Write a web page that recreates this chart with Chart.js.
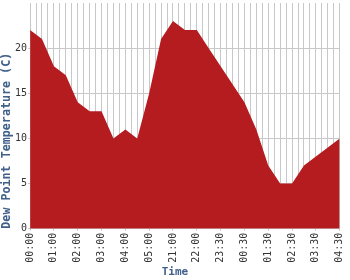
<!DOCTYPE html>
<html>
<head>
<meta charset="utf-8">
<script src="https://cdn.jsdelivr.net/npm/chart.js@4/dist/chart.umd.min.js"></script>
<style>
  html, body { margin: 0; padding: 0; background: #fff; }
</style>
</head>
<body>
<canvas id="dew" width="350" height="280"></canvas>
<script>
// one value every half label step, labels shown on every 2nd point
const dewPoint = [22, 21, 18, 17, 14, 13, 13, 10, 11, 10, 15, 21, 23, 22,
                  22, 20, 18, 16, 14, 11, 7, 5, 5, 7, 8, 9, 10];
const timeLabels = ['00:00', '01:00', '02:00', '03:00', '04:00', '05:00', '21:00',
                    '22:00', '23:30', '00:30', '01:30', '02:30', '03:30', '04:30'];

const gridGray = '#c8c8c8';
const titleBlue = '#40608a';
const mono = 'DejaVu Sans Mono';

const points = dewPoint.map((v, i) => ({ x: i, y: v }));

new Chart(document.getElementById('dew'), {
  type: 'line',
  data: {
    datasets: [{
      data: points,
      fill: 'origin',
      backgroundColor: '#b41c1f',
      borderColor: '#b41c1f',
      borderWidth: 0,
      pointRadius: 0,
      tension: 0
    }]
  },
  options: {
    responsive: false,
    animation: false,
    devicePixelRatio: 1,
    layout: { padding: { top: 0, right: 0, bottom: 1, left: 0 } },
    plugins: { legend: { display: false }, tooltip: { enabled: false } },
    scales: {
      x: {
        type: 'linear',
        min: 0,
        max: dewPoint.length - 1,
        grid: {
          color: gridGray,
          tickLength: 2,
          tickColor: (ctx) => (ctx.tick && ctx.tick.value % 2 === 0) ? gridGray : 'rgba(0,0,0,0)'
        },
        border: { color: gridGray },
        ticks: {
          stepSize: 0.5,
          maxTicksLimit: 200,
          autoSkip: false,
          minRotation: 90,
          maxRotation: 90,
          padding: 2,
          color: '#333',
          font: { family: mono, size: 10, lineHeight: 0.83 },
          callback: (v) => (v % 2 === 0) ? timeLabels[v / 2] : ''
        },
        title: {
          display: true,
          text: 'Time   ', // trailing blanks pull it left, onto the page centre
          color: titleBlue,
          padding: { top: 1, bottom: 0 },
          font: { family: mono, size: 11, weight: 'bold' }
        }
      },
      y: {
        min: 0,
        max: 25,
        grid: {
          color: (ctx) => (ctx.tick && ctx.tick.value === 25) ? 'rgba(0,0,0,0)' : gridGray,
          tickLength: 2
        },
        border: { color: gridGray },
        ticks: {
          stepSize: 5,
          padding: 1,
          color: '#333',
          font: { family: mono, size: 10, lineHeight: 0.4 },
          callback: (v) => v === 25 ? '' : v
        },
        title: {
          display: true,
          text: 'Dew Point Temperature (C)',
          align: 'start',
          color: titleBlue,
          padding: { top: 0, bottom: 0 },
          font: { family: mono, size: 11.7, weight: 'bold' }
        }
      }
    }
  }
});
</script>
</body>
</html>
